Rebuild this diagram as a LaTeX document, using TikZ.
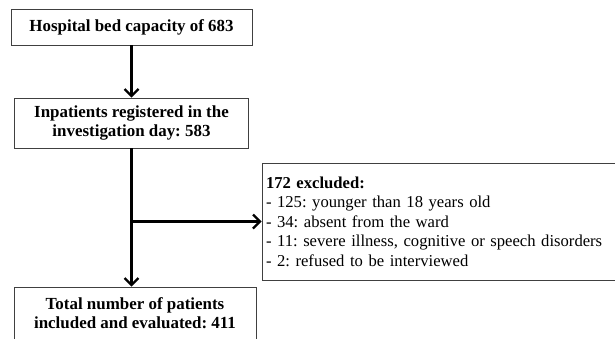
\documentclass[tikz,border=0pt]{standalone}
\usepackage{fontspec}
\setmainfont{Liberation Serif}
\usetikzlibrary{arrows.meta}
\begin{document}
\frenchspacing
\begin{tikzpicture}[x=1bp,y=-1bp,
  flowbox/.style={draw=black!75,line width=0.9bp,inner sep=0pt,align=center,
    font=\bfseries\fontsize{17}{18.5}\selectfont},
  flowarrow/.style={line width=2.2bp,-{Straight Barb[length=7bp,width=14bp]}}]%
% canvas 615x338, y grows downward
\useasboundingbox (0,0) rectangle (615,338);
\clip (0,0) rectangle (615,338);
\node[flowbox,minimum width=241bp,minimum height=36bp] (bedcap) at (131.5,27)
 {Hospital bed capacity of 683};
\node[flowbox,minimum width=234bp,minimum height=50bp] (inpat) at (131.5,123)
 {Inpatients registered in the\\investigation day: 583};
\node[flowbox,minimum width=363bp,minimum height=117bp,text width=355bp,
 inner xsep=4bp,align=left,font=\fontsize{16.7}{19.5}\selectfont] (excl) at (443.5,221.5)
 {\textbf{172 excluded:}\\- 125: younger than 18 years old\\- 34: absent from the ward\\
 - 11: severe illness, cognitive or speech disorders\\- 2: refused to be interviewed};
\node[flowbox,minimum width=242bp,minimum height=52bp] (total) at (135,313)
 {Total number of patients\\included and evaluated: 411};
\coordinate (split) at (inpat.south |- excl.west);
\draw[flowarrow] (bedcap.south) -- (inpat.north);
\draw[flowarrow] (inpat.south) -- (inpat.south |- total.north);
\draw[flowarrow] (split) -- (excl.west);
\end{tikzpicture}
\end{document}
